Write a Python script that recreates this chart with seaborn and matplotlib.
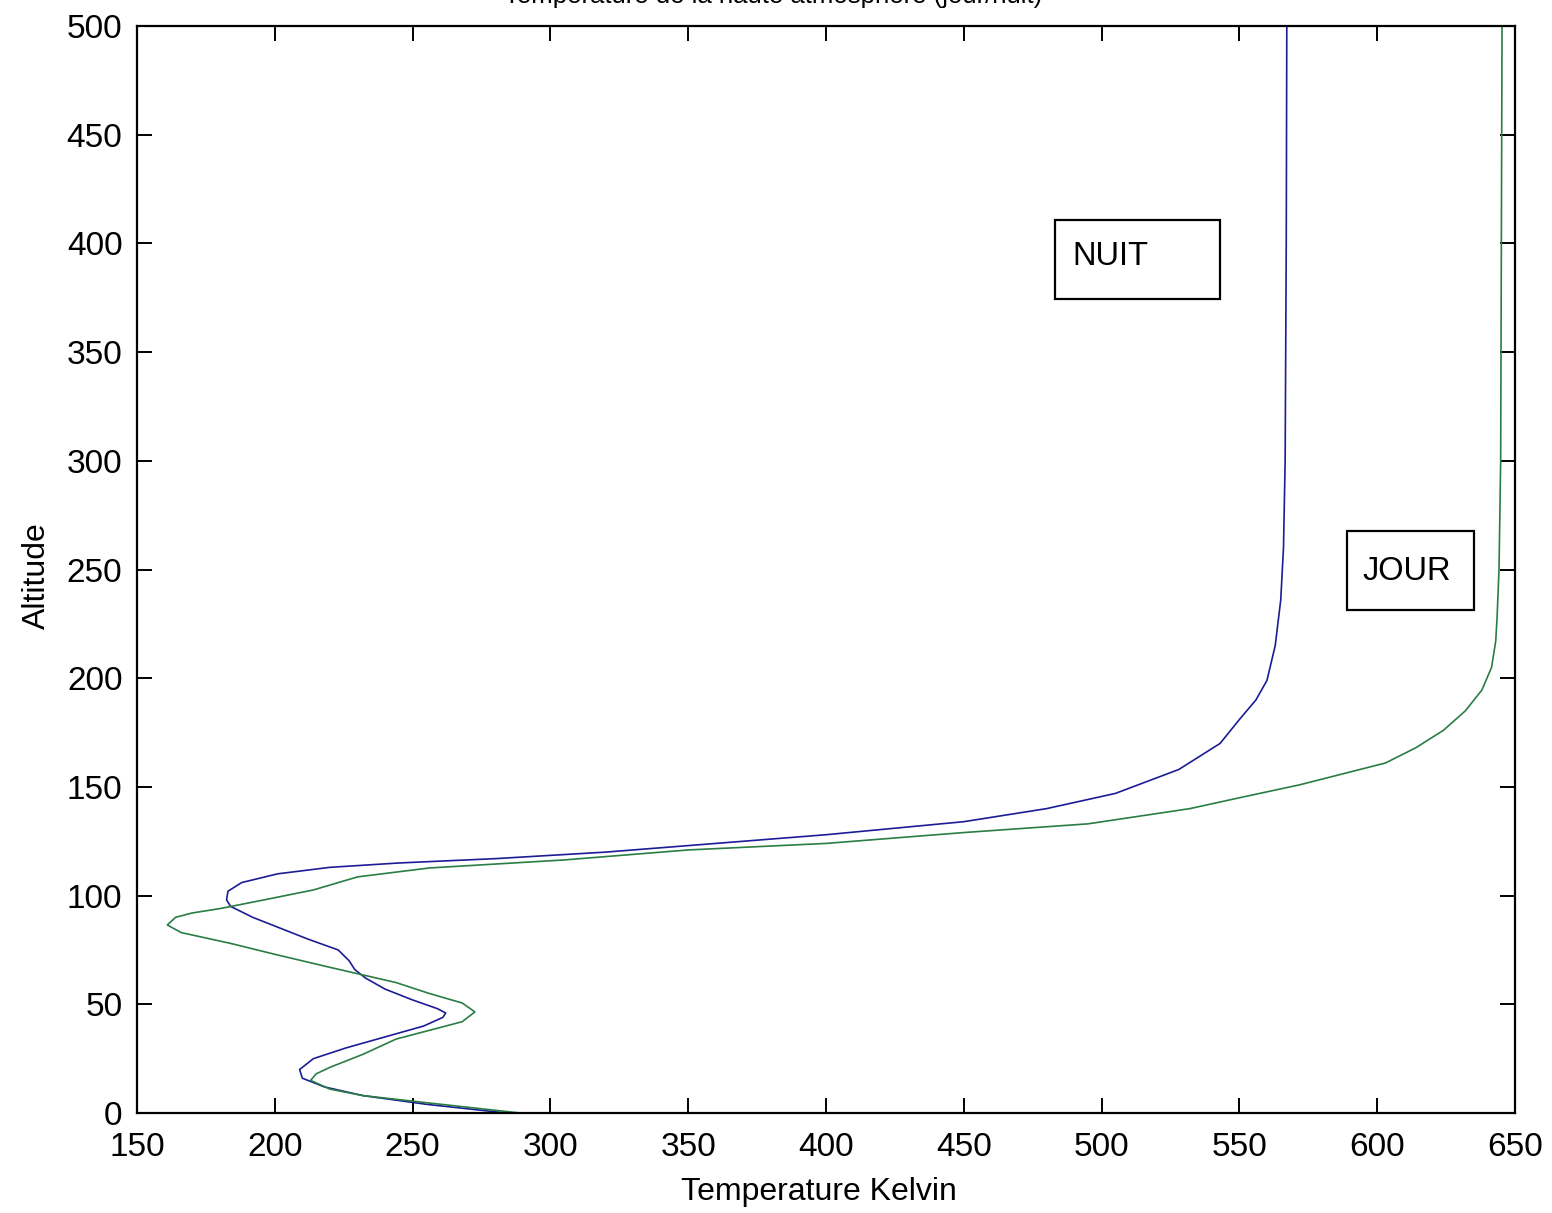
import matplotlib
matplotlib.use("Agg")
import matplotlib.pyplot as plt
from matplotlib.patches import Rectangle
import seaborn as sns
import pandas as pd

# Night profile (NUIT): altitude (km) and temperature (K)
alt_nuit = [0, 4, 8, 12, 16, 20, 25, 30, 35, 40, 44, 46, 48, 52, 57, 62, 66, 70,
            75, 80, 85, 90, 95, 98, 102, 106, 110, 113, 115, 117, 120, 124, 128,
            134, 140, 147, 158, 170, 181, 190, 199, 215, 236, 260, 300, 400, 500]
temp_nuit = [284, 255, 232, 218, 210, 209, 214, 226, 240, 254, 261, 262, 259, 250,
             240, 233, 229, 227, 223, 212, 202, 192, 184, 182.5, 183, 188, 201, 220,
             245, 280, 320, 360, 400, 450, 480, 505, 528, 543, 550, 556, 560, 563,
             565, 566, 566.6, 567, 567.2]

# Day profile (JOUR)
alt_jour = [0, 4.6, 8, 11, 15, 18, 21, 27, 34, 42, 46.5, 50.6, 55, 60, 67, 73, 78,
            83, 86.5, 90, 92, 94, 98, 102.6, 108.6, 112.7, 116.4, 121, 124, 129,
            133, 140, 145, 151, 161, 168, 176, 185, 194.6, 205, 217, 228, 250, 300, 500]
temp_jour = [289, 256, 232, 220, 213, 215, 220, 232, 244, 268, 272.6, 268, 256, 244,
             220, 200, 184, 166, 161, 164, 170, 180, 196, 214, 230, 256, 305, 350,
             400, 450, 495, 532, 550, 572, 603, 614, 624, 632, 638, 641.5, 643, 643.5,
             644.2, 644.8, 645.3]

x_ticks = [150, 200, 250, 300, 350, 400, 450, 500, 550, 600, 650]
y_ticks = [0, 50, 100, 150, 200, 250, 300, 350, 400, 450, 500]

sns.set_style("ticks")
plt.rcParams["font.family"] = ["Liberation Sans", "DejaVu Sans"]
plt.rcParams["text.color"] = "black"
plt.rcParams["axes.labelcolor"] = "black"

df = pd.concat([
    pd.DataFrame({"Temperature": temp_nuit, "Altitude": alt_nuit, "Periode": "NUIT"}),
    pd.DataFrame({"Temperature": temp_jour, "Altitude": alt_jour, "Periode": "JOUR"}),
], ignore_index=True)

W, H = 1552, 1213
fig = plt.figure(figsize=(W / 100, H / 100), dpi=100)
ax = fig.add_axes([137 / W, 1 - 1113 / H, (1515 - 137) / W, (1113 - 26) / H])

sns.lineplot(data=df, x="Temperature", y="Altitude", hue="Periode",
             palette={"NUIT": "#1c1c96", "JOUR": "#2a7d45"},
             sort=False, estimator=None, linewidth=1.2, legend=False, ax=ax)

ax.set_xlim(150, 650)
ax.set_ylim(0, 500)
ax.set_xticks(x_ticks)
ax.set_yticks(y_ticks)
ax.tick_params(direction="in", length=10.5, width=1.4, top=True, right=True,
               labelsize=24, colors="black")
ax.tick_params(axis="x", pad=14)
ax.tick_params(axis="y", pad=10.5)
for s in ax.spines.values():
    s.set_visible(True)
    s.set_linewidth(1.6)
    s.set_color("black")

ax.set_xlabel("Temperature Kelvin", fontsize=23, color="black")
ax.xaxis.set_label_coords(0.4946, -0.059)
ax.set_ylabel("Altitude", fontsize=23, color="black")
ax.yaxis.set_label_coords(-0.062, 0.494)

# Text boxes labelling each profile
ax.add_patch(Rectangle((483.1, 374.4), 59.9, 36.4, fill=False, edgecolor="black", lw=1.6))
ax.text(489.3, 390.1, "NUIT", fontsize=23.5, va="baseline", ha="left", color="black")
ax.add_patch(Rectangle((589.0, 231.4), 46.2, 36.3, fill=False, edgecolor="black", lw=1.6))
ax.text(594.5, 245.2, "JOUR", fontsize=23.5, va="baseline", ha="left", color="black")

fig.text(504 / W, 1 - 3 / H, "Temperature de la haute atmosphere (jour/nuit)",
         fontsize=18.5, ha="left", va="baseline", color="black")

fig.savefig("out.png", dpi=100)
